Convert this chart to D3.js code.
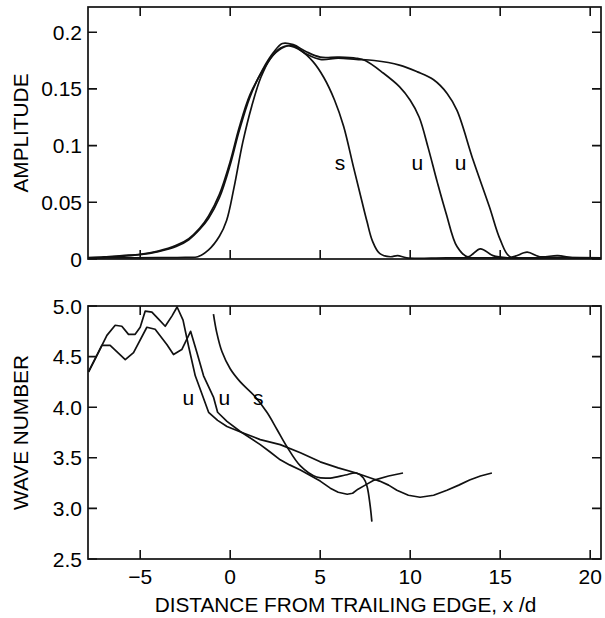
<!DOCTYPE html>
<html>
<head>
<meta charset="utf-8">
<script src="https://cdn.jsdelivr.net/npm/d3@7"></script>
<style>
  body { margin: 0; background: #fff; }
  svg { display: block; }
  .tick-label { font-family: "Liberation Sans", Arial, sans-serif; font-size: 21px; fill: #000; }
  .axis-title { font-family: "Liberation Sans", Arial, sans-serif; font-size: 20.8px; fill: #000; }
  .curve { fill: none; stroke: #111; stroke-width: 1.7; stroke-linejoin: round; }
  .frame { fill: none; stroke: #111; stroke-width: 1.7; }
</style>
</head>
<body>
<div id="chart"></div>
<script>
"use strict";

// x positions shared by both panels
var xTicks = [-5, 0, 5, 10, 15, 20];
var ampTicks = [0, 0.05, 0.1, 0.15, 0.2];
var ampTickLabels = ['0', '0.05', '0.1', '0.15', '0.2'];
var waveTicks = [2.5, 3.0, 3.5, 4.0, 4.5, 5.0];
var waveTickLabels = ['2.5', '3.0', '3.5', '4.0', '4.5', '5.0'];

// amplitude curves [x/d, amplitude]
var ampU1 = [[-8, 0.001], [-7, 0.0015], [-6, 0.0025], [-5, 0.0038], [-4, 0.0065], [-3, 0.011], [-2.3, 0.017],
  [-1.7, 0.026], [-1.2, 0.036], [-0.6, 0.054], [0, 0.083], [0.5, 0.113], [1.1, 0.143], [1.8, 0.167], [2.4, 0.182],
  [2.9, 0.19], [3.5, 0.189], [4.2, 0.183], [5, 0.178], [6, 0.178], [7, 0.177], [7.5, 0.175], [8.5, 0.164],
  [9.4, 0.152], [10, 0.14], [10.5, 0.125], [11, 0.098], [11.5, 0.068], [12, 0.04], [12.6, 0.011], [13.2, 0.002],
  [13.9, 0.009], [14.6, 0.003], [15.5, 0.001], [17, 0.001], [18.5, 0.0015], [20.6, 0.001]];
var ampU2 = [[-8, 0.0012], [-7, 0.0018], [-6, 0.003], [-5, 0.0042], [-4, 0.007], [-3, 0.012], [-2.3, 0.018],
  [-1.7, 0.027], [-1.2, 0.038], [-0.6, 0.057], [0, 0.086], [0.5, 0.116], [1.1, 0.145], [1.8, 0.166], [2.4, 0.18],
  [3, 0.187], [3.5, 0.188], [4.2, 0.181], [5, 0.176], [6, 0.177], [7, 0.176], [8, 0.175], [9.4, 0.171],
  [10.4, 0.165], [11.3, 0.158], [12.05, 0.146], [12.6, 0.131], [13.5, 0.087], [14.4, 0.046], [15, 0.017],
  [15.55, 0.002], [16.5, 0.006], [17.2, 0.002], [18.2, 0.003], [19, 0.001], [20.6, 0.001]];
var ampS = [[-8, 0.0008], [-6, 0.001], [-4, 0.0012], [-2.5, 0.0015], [-1.8, 0.002], [-1.2, 0.008], [-0.6, 0.02],
  [-0.2, 0.034], [0.2, 0.062], [0.7, 0.103], [1.2, 0.135], [1.7, 0.16], [2.2, 0.176], [2.8, 0.186], [3.3, 0.188],
  [3.9, 0.184], [4.6, 0.174], [5.2, 0.16], [5.8, 0.14], [6.3, 0.117], [6.85, 0.081], [7.3, 0.052], [7.6, 0.033],
  [7.9, 0.016], [8.3, 0.005], [8.9, 0.002], [9.3, 0.003], [9.8, 0.001], [12, 0.001], [15, 0.001], [20.6, 0.001]];

// wave number curves [x/d, wave number]
var waveU1 = [[-7.87, 4.35], [-7.41, 4.51], [-6.85, 4.71], [-6.39, 4.81], [-6.02, 4.8], [-5.65, 4.72], [-5.28, 4.72],
  [-5.0, 4.79], [-4.72, 4.95], [-4.35, 4.94], [-3.98, 4.87], [-3.61, 4.8], [-3.24, 4.9], [-2.95, 4.99], [-2.62, 4.86],
  [-2.31, 4.6], [-1.94, 4.31], [-1.67, 4.18], [-1.2, 3.95], [-0.7, 3.87], [-0.18, 3.81], [0.65, 3.75], [1.67, 3.68],
  [2.78, 3.63], [3.9, 3.55], [5, 3.46], [6, 3.4], [7, 3.35], [7.8, 3.3], [8.3, 3.27], [8.8, 3.23], [9.26, 3.18],
  [9.9, 3.13], [10.55, 3.11], [11.3, 3.13], [12.04, 3.18], [12.7, 3.23], [13.3, 3.28], [13.9, 3.32], [14.54, 3.35]];
var waveU2 = [[-7.87, 4.35], [-7.13, 4.61], [-6.67, 4.61], [-5.83, 4.47], [-5.37, 4.54], [-4.63, 4.79], [-4.17, 4.77],
  [-3.52, 4.62], [-3.15, 4.52], [-2.69, 4.57], [-2.2, 4.75], [-1.85, 4.54], [-1.48, 4.31], [-0.93, 4.1], [-0.7, 3.95],
  [-0.18, 3.86], [0.56, 3.76], [1.67, 3.63], [2.2, 3.56], [2.78, 3.48], [3.3, 3.43], [3.9, 3.38], [4.5, 3.32],
  [5, 3.27], [5.56, 3.2], [6, 3.16], [6.5, 3.14], [6.8, 3.15], [7.1, 3.19], [7.5, 3.23], [8, 3.28], [8.8, 3.32],
  [9.6, 3.35]];
var waveS = [[-0.93, 4.92], [-0.75, 4.74], [-0.46, 4.55], [0, 4.38], [0.56, 4.25], [1.3, 4.12], [2.04, 3.95],
  [2.6, 3.78], [3.15, 3.61], [3.9, 3.42], [4.8, 3.31], [5.56, 3.3], [6.4, 3.33], [7.0, 3.35], [7.4, 3.3],
  [7.6, 3.22], [7.78, 3.02], [7.87, 2.87]];

var ampLabels = [{ text: 's', x: 6.1, y: 0.085 }, { text: 'u', x: 10.4, y: 0.085 }, { text: 'u', x: 12.8, y: 0.085 }];
var waveLabels = [{ text: 'u', x: -2.33, y: 4.1 }, { text: 'u', x: -0.33, y: 4.1 }, { text: 's', x: 1.56, y: 4.1 }];

var WIDTH = 605;
var HEIGHT = 618;
var TICK = 9;

var svg = d3.select('#chart').append('svg').attr('width', WIDTH).attr('height', HEIGHT);

var x = d3.scaleLinear().domain([-7.9, 20.6]).range([88, 601]);

function drawPanel(opts) {
  var y = d3.scaleLinear().domain(opts.domain).range([opts.bottom, opts.top]);
  var g = svg.append('g');
  var clipId = 'clip-' + opts.name;
  var left = x.range()[0], right = x.range()[1];

  g.append('clipPath').attr('id', clipId).append('rect')
    .attr('x', left).attr('y', opts.top)
    .attr('width', right - left).attr('height', opts.bottom - opts.top);

  g.append('rect').attr('class', 'frame')
    .attr('x', left).attr('y', opts.top)
    .attr('width', right - left).attr('height', opts.bottom - opts.top);

  // inward ticks, all four sides, drawn as one path
  var tickPath = d3.path();
  xTicks.forEach(function (d) {
    tickPath.moveTo(x(d), opts.bottom);
    tickPath.lineTo(x(d), opts.bottom - TICK);
    tickPath.moveTo(x(d), opts.top);
    tickPath.lineTo(x(d), opts.top + TICK);
  });
  opts.ticks.forEach(function (d) {
    tickPath.moveTo(left, y(d));
    tickPath.lineTo(left + TICK, y(d));
    tickPath.moveTo(right, y(d));
    tickPath.lineTo(right - TICK, y(d));
  });
  g.append('path')
    .attr('d', tickPath.toString())
    .attr('fill', 'none')
    .attr('stroke', '#111')
    .attr('stroke-width', 1.6);

  // y tick labels
  g.selectAll('.ytl').data(opts.ticks).enter().append('text')
    .attr('class', 'tick-label')
    .attr('x', left - 6)
    .attr('y', function (d) { return y(d); })
    .attr('dy', '0.36em')
    .attr('text-anchor', 'end')
    .text(function (d, i) { return opts.tickLabels[i]; });

  // y axis title
  g.append('text').attr('class', 'axis-title')
    .attr('transform', 'translate(27.5,' + ((opts.top + opts.bottom) / 2) + ') rotate(-90)')
    .attr('text-anchor', 'middle')
    .text(opts.title);

  // each series brings its own interpolation
  var plot = g.append('g').attr('clip-path', 'url(#' + clipId + ')');
  opts.curves.forEach(function (c) {
    var line = d3.line()
      .x(function (d) { return x(d[0]); })
      .y(function (d) { return y(d[1]); })
      .curve(c.curve);
    plot.append('path').datum(c.points).attr('class', 'curve').attr('d', line);
  });

  g.selectAll('.lbl').data(opts.labels).enter().append('text')
    .attr('class', 'tick-label')
    .attr('x', function (d) { return x(d.x); })
    .attr('y', function (d) { return y(d.y); })
    .attr('dy', '0.36em')
    .attr('text-anchor', 'middle')
    .text(function (d) { return d.text; });

  return y;
}

var smooth = d3.curveCatmullRom.alpha(0.5);

drawPanel({
  name: 'amp', top: 7, bottom: 259, domain: [0, 0.2222],
  ticks: ampTicks, tickLabels: ampTickLabels, title: 'AMPLITUDE',
  curves: [{ points: ampU1, curve: smooth }, { points: ampU2, curve: smooth }, { points: ampS, curve: smooth }],
  labels: ampLabels
});

drawPanel({
  name: 'wave', top: 306, bottom: 559, domain: [2.5, 5.0],
  ticks: waveTicks, tickLabels: waveTickLabels, title: 'WAVE NUMBER',
  curves: [{ points: waveU1, curve: d3.curveLinear }, { points: waveU2, curve: d3.curveLinear },
    { points: waveS, curve: smooth }],
  labels: waveLabels
});

// x tick labels, only under the lower panel
svg.selectAll('.xtl').data(xTicks).enter().append('text')
  .attr('class', 'tick-label')
  .attr('x', function (d) { return x(d); })
  .attr('y', 584)
  .attr('text-anchor', 'middle')
  .text(function (d) { return d < 0 ? '\u2212' + Math.abs(d) : d; });

svg.append('text').attr('class', 'axis-title')
  .attr('x', (154 + 537) / 2)
  .attr('y', 612)
  .attr('text-anchor', 'middle')
  .text('DISTANCE FROM TRAILING EDGE, x /d');
</script>
</body>
</html>
